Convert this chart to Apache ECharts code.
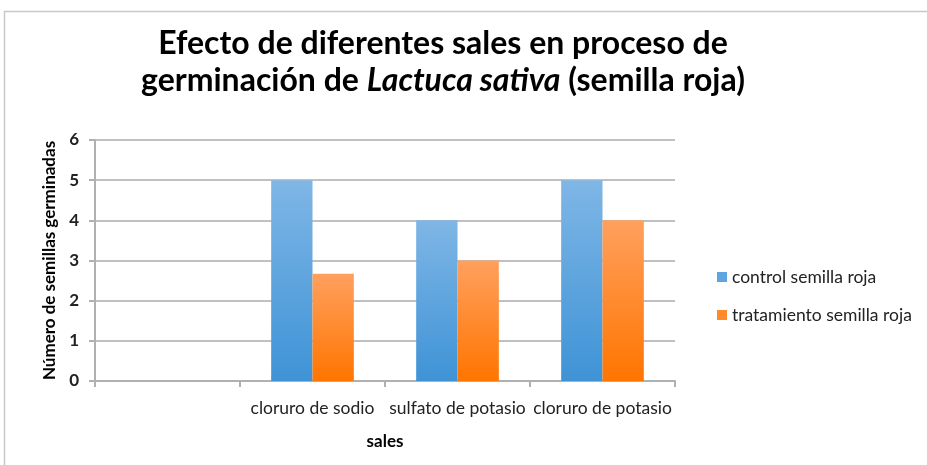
<!DOCTYPE html>
<html>
<head>
<meta charset="utf-8">
<script src="https://cdn.jsdelivr.net/npm/echarts@6/dist/echarts.min.js"></script>
<style>html,body{margin:0;padding:0;background:#fff}#c{width:927px;height:465px}</style>
</head>
<body>
<div id="c"></div>
<script>
const categories = ['', 'cloruro de sodio', 'sulfato de potasio', 'cloruro de potasio'];
const seriesNames = ['control semilla roja', 'tratamiento semilla roja'];
const controlValues = [null, 5, 4, 5];
const tratamientoValues = [null, 2.67, 3, 4];
const yTicks = [0, 1, 2, 3, 4, 5, 6];

const FONT = 'Lato, "Open Sans", sans-serif';
const chart = echarts.init(document.getElementById('c'));
function grad(top, bottom) {
  return new echarts.graphic.LinearGradient(0, 0, 0, 1, [
    {offset: 0, color: top}, {offset: 1, color: bottom}
  ]);
}
chart.setOption({
  animation: false,
  backgroundColor: '#fff',
  graphic: [{
    type: 'rect', shape: {x: 4.5, y: 11.5, width: 940, height: 470},
    style: {fill: 'none', stroke: '#c8c8c8', lineWidth: 1.5}, silent: true
  }],
  title: {
    text: '{b|Efecto de diferentes sales en proceso de}\n{b|germinación de }{i|Lactuca sativa}{b| (semilla roja)}',
    left: 438, top: 20, textAlign: 'center',
    textStyle: {
      rich: {
        b: {fontFamily: FONT, fontWeight: 'bold', fontSize: 32, color: '#000', lineHeight: 37},
        i: {fontFamily: FONT, fontWeight: 'bold', fontStyle: 'italic', fontSize: 32, color: '#000', lineHeight: 37}
      }
    }
  },
  legend: {
    orient: 'vertical', left: 712, top: 263, itemGap: 20,
    itemWidth: 10, itemHeight: 10, icon: 'rect',
    textStyle: {fontFamily: FONT, fontSize: 17.5, color: '#222'},
    data: [
      {name: seriesNames[0], itemStyle: {color: '#5ea5e0'}},
      {name: seriesNames[1], itemStyle: {color: '#ff8a2a'}}
    ]
  },
  grid: {left: 95, right: 252, top: 140, bottom: 84, containLabel: false},
  xAxis: {
    type: 'category', data: categories,
    name: 'sales', nameLocation: 'middle', nameGap: 52,
    nameTextStyle: {fontFamily: FONT, fontWeight: 'bold', fontSize: 17, color: '#000'},
    axisLine: {lineStyle: {color: '#b0b0b0', width: 2}},
    axisTick: {show: true, length: 6, lineStyle: {color: '#b0b0b0', width: 2}},
    axisLabel: {fontFamily: FONT, fontSize: 17.5, color: '#222', margin: 18, interval: 0}
  },
  yAxis: {
    type: 'value', min: 0, max: 6, interval: 1,
    name: 'Número de semillas germinadas', nameLocation: 'middle', nameGap: 30, nameRotate: 90,
    nameTextStyle: {fontFamily: FONT, fontWeight: 'bold', fontSize: 17, color: '#000'},
    axisLine: {show: true, lineStyle: {color: '#b0b0b0', width: 2}},
    axisTick: {show: true, length: 6, lineStyle: {color: '#b0b0b0', width: 2}},
    splitLine: {lineStyle: {color: '#c0c0c0', width: 2}},
    axisLabel: {fontFamily: FONT, fontWeight: 'bold', fontSize: 17, color: '#222', margin: 16,
      formatter: v => yTicks.includes(v) ? String(v) : ''}
  },
  series: [
    {name: seriesNames[0], type: 'bar', data: controlValues, barWidth: '28.5%', barGap: '0%',
     itemStyle: {color: grad('#7fb6e6', '#3e93d6')}},
    {name: seriesNames[1], type: 'bar', data: tratamientoValues, barWidth: '28.5%', barGap: '0%',
     itemStyle: {color: grad('#ffa05e', '#ff7500')}}
  ]
});
</script>
</body>
</html>
